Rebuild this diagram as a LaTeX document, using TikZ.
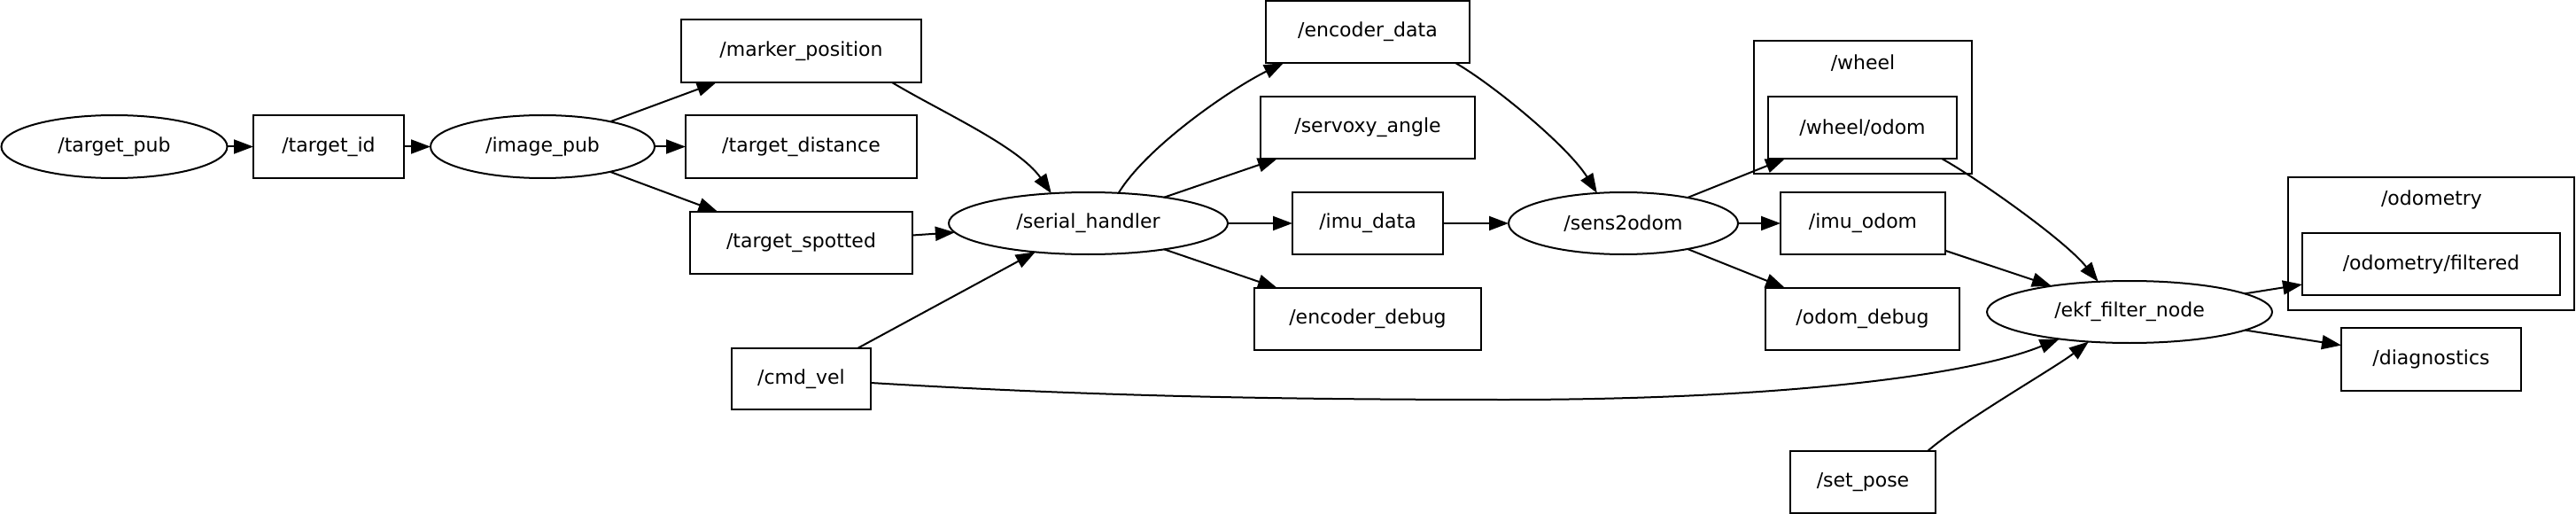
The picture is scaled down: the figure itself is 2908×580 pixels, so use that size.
\documentclass[tikz,border=0pt]{standalone}
\usepackage{fontspec}
\setmainfont{DejaVu Sans}
\usetikzlibrary{shapes.geometric,arrows.meta}
\begin{document}
\begin{tikzpicture}[x=1pt,y=-1pt,
  every node/.style={font=\fontsize{22}{26}\selectfont, inner sep=0pt, outer sep=0pt},
  topic/.style={draw, line width=2pt, rectangle},
  rosnode/.style={draw, line width=2pt, ellipse},
  cluster/.style={draw, line width=2pt},
  conn/.style={line width=2pt, -{Triangle[length=22pt,width=16pt]}},
  ]
\useasboundingbox (0,0) rectangle (2908,580);
% clusters
\draw[cluster] (1980,46) rectangle (2226,196);
\node (wheellab) at (2103,71) {/wheel};
\draw[cluster] (2583,200) rectangle (2906,350);
\node (odomlab) at (2745,225) {/odometry};
% ROS nodes
\node[rosnode, minimum width=255pt, minimum height=71pt] (tp) at (129,165.5) {/target\_pub};
\node[rosnode, minimum width=253pt, minimum height=71pt] (ip) at (612.5,165.5) {/image\_pub};
\node[rosnode, minimum width=315pt, minimum height=70pt] (sh) at (1228.5,252) {/serial\_handler};
\node[rosnode, minimum width=259pt, minimum height=70pt] (so) at (1832.5,252) {/sens2odom};
\node[rosnode, minimum width=322pt, minimum height=70pt] (ekf) at (2404,352) {/ekf\_filter\_node};
% topics
\node[topic, minimum width=170pt, minimum height=71pt] (tid) at (371,165.5) {/target\_id};
\node[topic, minimum width=271pt, minimum height=71pt] (mp) at (904.5,57.5) {/marker\_position};
\node[topic, minimum width=261pt, minimum height=71pt] (td) at (904.5,165.5) {/target\_distance};
\node[topic, minimum width=251pt, minimum height=70pt] (ts) at (904.5,274) {/target\_spotted};
\node[topic, minimum width=157pt, minimum height=69pt] (cmd) at (904.5,427.5) {/cmd\_vel};
\node[topic, minimum width=230pt, minimum height=70pt] (ed) at (1544,36) {/encoder\_data};
\node[topic, minimum width=242pt, minimum height=70pt] (sv) at (1544,144) {/servoxy\_angle};
\node[topic, minimum width=170pt, minimum height=70pt] (imu) at (1544,252) {/imu\_data};
\node[topic, minimum width=256pt, minimum height=70pt] (edb) at (1544,360) {/encoder\_debug};
\node[topic, minimum width=213pt, minimum height=70pt] (wo) at (2102.5,144) {/wheel/odom};
\node[topic, minimum width=186pt, minimum height=70pt] (io) at (2103,252) {/imu\_odom};
\node[topic, minimum width=219pt, minimum height=70pt] (odb) at (2102.5,360) {/odom\_debug};
\node[topic, minimum width=164pt, minimum height=70pt] (sp) at (2103,544) {/set\_pose};
\node[topic, minimum width=291pt, minimum height=70pt] (of) at (2744.5,298) {/odometry/filtered};
\node[topic, minimum width=203pt, minimum height=71pt] (diag) at (2744.5,405.5) {/diagnostics};
% connectors
\draw[conn] (tp) -- (tid);
\draw[conn] (tid) -- (ip);
\draw[conn] (ip) -- (mp);
\draw[conn] (ip) -- (td);
\draw[conn] (ip) -- (ts);
\draw[conn] (ts) -- (sh);
\draw[conn] (cmd) -- (sh);
\draw[conn] ([xshift=102.5pt]mp.south) .. controls (1060,125) and (1150,165) .. (sh.141);
\draw[conn] (sh.45) .. controls (1295,165) and (1390,100) .. ([xshift=-95pt]ed.south);
\draw[conn] (sh) -- (sv);
\draw[conn] (sh) -- (imu);
\draw[conn] (sh) -- (edb);
\draw[conn] (imu) -- (so);
\draw[conn] ([xshift=99pt]ed.south) .. controls (1685,95) and (1770,165) .. (so.131);
\draw[conn] (so) -- (wo);
\draw[conn] (so) -- (io);
\draw[conn] (so) -- (odb);
\draw[conn] ([xshift=89.5pt]wo.south) .. controls (2230,200) and (2330,270) .. (ekf.136);
\draw[conn] (io) -- (ekf);
\draw[conn] ([xshift=73pt]sp.north) .. controls (2215,475) and (2320,415) .. (ekf.216);
\draw[conn] ([yshift=-4.5pt]cmd.east) .. controls (1200,445) and (1400,451) .. (1700,451)
   .. controls (2000,451) and (2220,425) .. (ekf.201);
\draw[conn] (ekf) -- (of);
\draw[conn] (ekf) -- (diag);
\end{tikzpicture}
\end{document}
